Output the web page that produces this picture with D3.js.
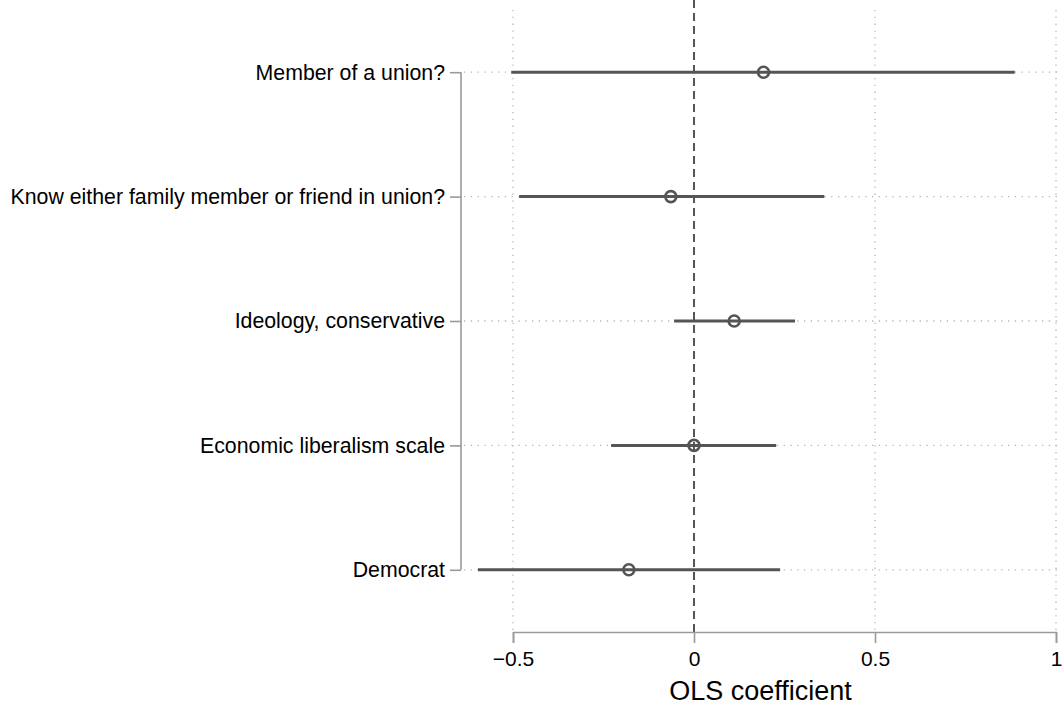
<!DOCTYPE html>
<html>
<head>
<meta charset="utf-8">
<script src="https://cdn.jsdelivr.net/npm/d3@7/dist/d3.min.js"></script>
<style>
  html, body { margin: 0; padding: 0; background: #fff; }
  svg { display: block; font-family: "Liberation Sans", Arial, Helvetica, sans-serif; }
</style>
</head>
<body>
<svg id="chart" width="1063" height="706"></svg>
<script>
const categories = [
  "Member of a union?",
  "Know either family member or friend in union?",
  "Ideology, conservative",
  "Economic liberalism scale",
  "Democrat"
];
const estimates = [0.192, -0.064, 0.111, 0.0, -0.180];
const ciLow     = [-0.505, -0.483, -0.055, -0.229, -0.597];
const ciHigh    = [0.886, 0.360, 0.279, 0.227, 0.238];
const xTicks = [-0.5, 0, 0.5, 1];
const xTickLabels = ["\u22120.5", "0", "0.5", "1"];
const xTitle = "OLS coefficient";

const data = categories.map((c, i) => ({ cat: c, est: estimates[i], lo: ciLow[i], hi: ciHigh[i] }));

const svg = d3.select("#chart");
const plotTop = 10, plotBottom = 632, plotLeft = 461, plotRight = 1060;

const x = d3.scaleLinear().domain([-0.5, 1]).range([513, 1056]);
const y = d3.scalePoint().domain(categories).range([plotTop, plotBottom]).padding(0.5);

const gridColor = "#b5b5b5";
const axisColor = "#9a9a9a";
const markColor = "#555555";

// vertical dotted grid lines
svg.append("g").selectAll("line")
  .data(xTicks.filter(t => t !== 0))
  .join("line")
  .attr("x1", d => x(d)).attr("x2", d => x(d))
  .attr("y1", plotTop).attr("y2", plotBottom)
  .attr("stroke", gridColor).attr("stroke-width", 1.3)
  .attr("stroke-dasharray", "1.3,5.5");

// horizontal dotted grid lines
svg.append("g").selectAll("line")
  .data(categories)
  .join("line")
  .attr("x1", plotLeft + 3).attr("x2", plotRight)
  .attr("y1", d => y(d)).attr("y2", d => y(d))
  .attr("stroke", gridColor).attr("stroke-width", 1.3)
  .attr("stroke-dasharray", "1.3,5.5");

// zero reference line
svg.append("line")
  .attr("x1", x(0)).attr("x2", x(0))
  .attr("y1", 0).attr("y2", plotBottom)
  .attr("stroke", markColor).attr("stroke-width", 2)
  .attr("stroke-dasharray", "8,5");

// x axis
const xAxis = d3.axisBottom(x).tickValues(xTicks)
  .tickFormat((d, i) => xTickLabels[i]).tickSizeOuter(0).tickSize(11).tickPadding(8);
const gx = svg.append("g").attr("transform", `translate(0,${plotBottom})`).call(xAxis);
gx.select(".domain").attr("stroke", axisColor).attr("stroke-width", 1.6);
gx.selectAll(".tick line").attr("stroke", axisColor).attr("stroke-width", 1.6);
gx.selectAll(".tick text").attr("fill", "#000").style("font-size", "21px")
  .style("font-family", "'Liberation Sans', Arial, sans-serif");

// y axis (domain line spans only first to last category)
const yAxis = d3.axisLeft(y).tickSizeOuter(0).tickSize(11).tickPadding(5);
const gy = svg.append("g").attr("transform", `translate(${plotLeft},0)`).call(yAxis);
const yFirst = y(categories[0]), yLast = y(categories[categories.length - 1]);
gy.select(".domain").attr("d", `M0,${yFirst}V${yLast}`)
  .attr("stroke", axisColor).attr("stroke-width", 1.6);
gy.selectAll(".tick line").attr("stroke", axisColor).attr("stroke-width", 1.6);
gy.selectAll(".tick text").attr("fill", "#000").style("font-size", "21.3px")
  .style("font-family", "'Liberation Sans', Arial, sans-serif");

// x axis title
svg.append("text")
  .attr("x", (plotLeft + plotRight) / 2).attr("y", 700)
  .attr("text-anchor", "middle")
  .style("font-size", "27px")
  .attr("fill", "#000")
  .text(xTitle);

// confidence intervals
svg.append("g").selectAll("line")
  .data(data)
  .join("line")
  .attr("x1", d => x(d.lo)).attr("x2", d => x(d.hi))
  .attr("y1", d => y(d.cat)).attr("y2", d => y(d.cat))
  .attr("stroke", markColor).attr("stroke-width", 3);

// point estimates
svg.append("g").selectAll("circle")
  .data(data)
  .join("circle")
  .attr("cx", d => x(d.est)).attr("cy", d => y(d.cat))
  .attr("r", 5.5)
  .attr("fill", "none")
  .attr("stroke", markColor).attr("stroke-width", 2.6);
</script>
</body>
</html>
